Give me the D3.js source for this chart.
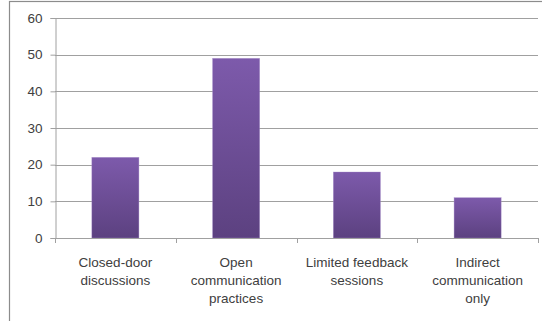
<!DOCTYPE html>
<html>
<head>
<meta charset="utf-8">
<script src="https://cdn.jsdelivr.net/npm/d3@7"></script>
<style>
  html, body { margin: 0; padding: 0; background: #fff; }
  svg { display: block; }
  text { font-family: "Liberation Sans", "DejaVu Sans", sans-serif; fill: #404040; }
</style>
</head>
<body>
<svg id="chart" width="542" height="321"></svg>
<script>
const categories = [
  ["Closed-door", "discussions"],
  ["Open", "communication", "practices"],
  ["Limited feedback", "sessions"],
  ["Indirect", "communication", "only"]
];
const values = [22, 49, 18, 11];
const yTicks = [0, 10, 20, 30, 40, 50, 60];

const svg = d3.select("#chart");
const W = 542, H = 321;
const plot = { left: 55, right: 538, top: 18, bottom: 238 };

// chart frame (extends past the right and bottom edges)
svg.append("rect")
  .attr("x", 9.5).attr("y", 1.5)
  .attr("width", W + 20).attr("height", H + 20)
  .attr("fill", "#fff")
  .attr("stroke", "#8c8c8c").attr("stroke-width", 1.2);

const x = d3.scaleBand()
  .domain(d3.range(categories.length))
  .range([plot.left, plot.right])
  .paddingInner(0.61).paddingOuter(0.305);

const xOuter = d3.scaleBand()
  .domain(d3.range(categories.length))
  .range([plot.left, plot.right]);

const y = d3.scaleLinear().domain([0, 60]).range([plot.bottom, plot.top]);

// gridlines
svg.append("g")
  .selectAll("line")
  .data(yTicks.filter(d => d > 0))
  .join("line")
  .attr("x1", plot.left).attr("x2", plot.right)
  .attr("y1", d => Math.round(y(d)) + 0.5).attr("y2", d => Math.round(y(d)) + 0.5)
  .attr("stroke", "#a0a0a0").attr("stroke-width", 1);

// y axis
const yAxis = svg.append("g")
  .attr("transform", `translate(${plot.left + 0.5},0)`)
  .call(d3.axisLeft(y).tickValues(yTicks).tickSize(5).tickPadding(8));
yAxis.select(".domain").attr("stroke", "#a0a0a0");
yAxis.selectAll(".tick line").attr("stroke", "#a0a0a0");
yAxis.selectAll(".tick text")
  .attr("font-size", 13.5)
  .style("font-family", "'Liberation Sans', sans-serif")
  .attr("fill", "#404040");

// bar gradient
const defs = svg.append("defs");
const grad = defs.append("linearGradient")
  .attr("id", "barGrad").attr("x1", 0).attr("y1", 0).attr("x2", 0).attr("y2", 1);
grad.append("stop").attr("offset", "0%").attr("stop-color", "#7d5aab");
grad.append("stop").attr("offset", "100%").attr("stop-color", "#5c4180");

// bars
svg.append("g")
  .selectAll("rect")
  .data(values)
  .join("rect")
  .attr("x", (d, i) => x(i))
  .attr("y", d => y(d))
  .attr("width", x.bandwidth())
  .attr("height", d => y(0) - y(d))
  .attr("fill", "url(#barGrad)")
  .attr("stroke", "#a88fcc").attr("stroke-width", 0.6).attr("stroke-opacity", 0.6);

// x axis
const xAxisG = svg.append("g");
xAxisG.append("line")
  .attr("x1", plot.left).attr("x2", plot.right)
  .attr("y1", plot.bottom + 0.5).attr("y2", plot.bottom + 0.5)
  .attr("stroke", "#a0a0a0");
xAxisG.selectAll("line.tick")
  .data(d3.range(categories.length + 1))
  .join("line")
  .attr("class", "tick")
  .attr("x1", i => Math.round(plot.left + i * xOuter.step()) + 0.5)
  .attr("x2", i => Math.round(plot.left + i * xOuter.step()) + 0.5)
  .attr("y1", plot.bottom).attr("y2", plot.bottom + 5)
  .attr("stroke", "#a0a0a0");

// category labels
svg.append("g")
  .selectAll("text")
  .data(categories)
  .join("text")
  .attr("text-anchor", "middle")
  .attr("font-size", 13.5)
  .attr("transform", (d, i) => `translate(${xOuter(i) + xOuter.bandwidth() / 2},0)`)
  .each(function(lines) {
    d3.select(this).selectAll("tspan")
      .data(lines)
      .join("tspan")
      .attr("x", 0)
      .attr("y", (l, j) => 267 + j * 18)
      .text(l => l);
  });
</script>
</body>
</html>
